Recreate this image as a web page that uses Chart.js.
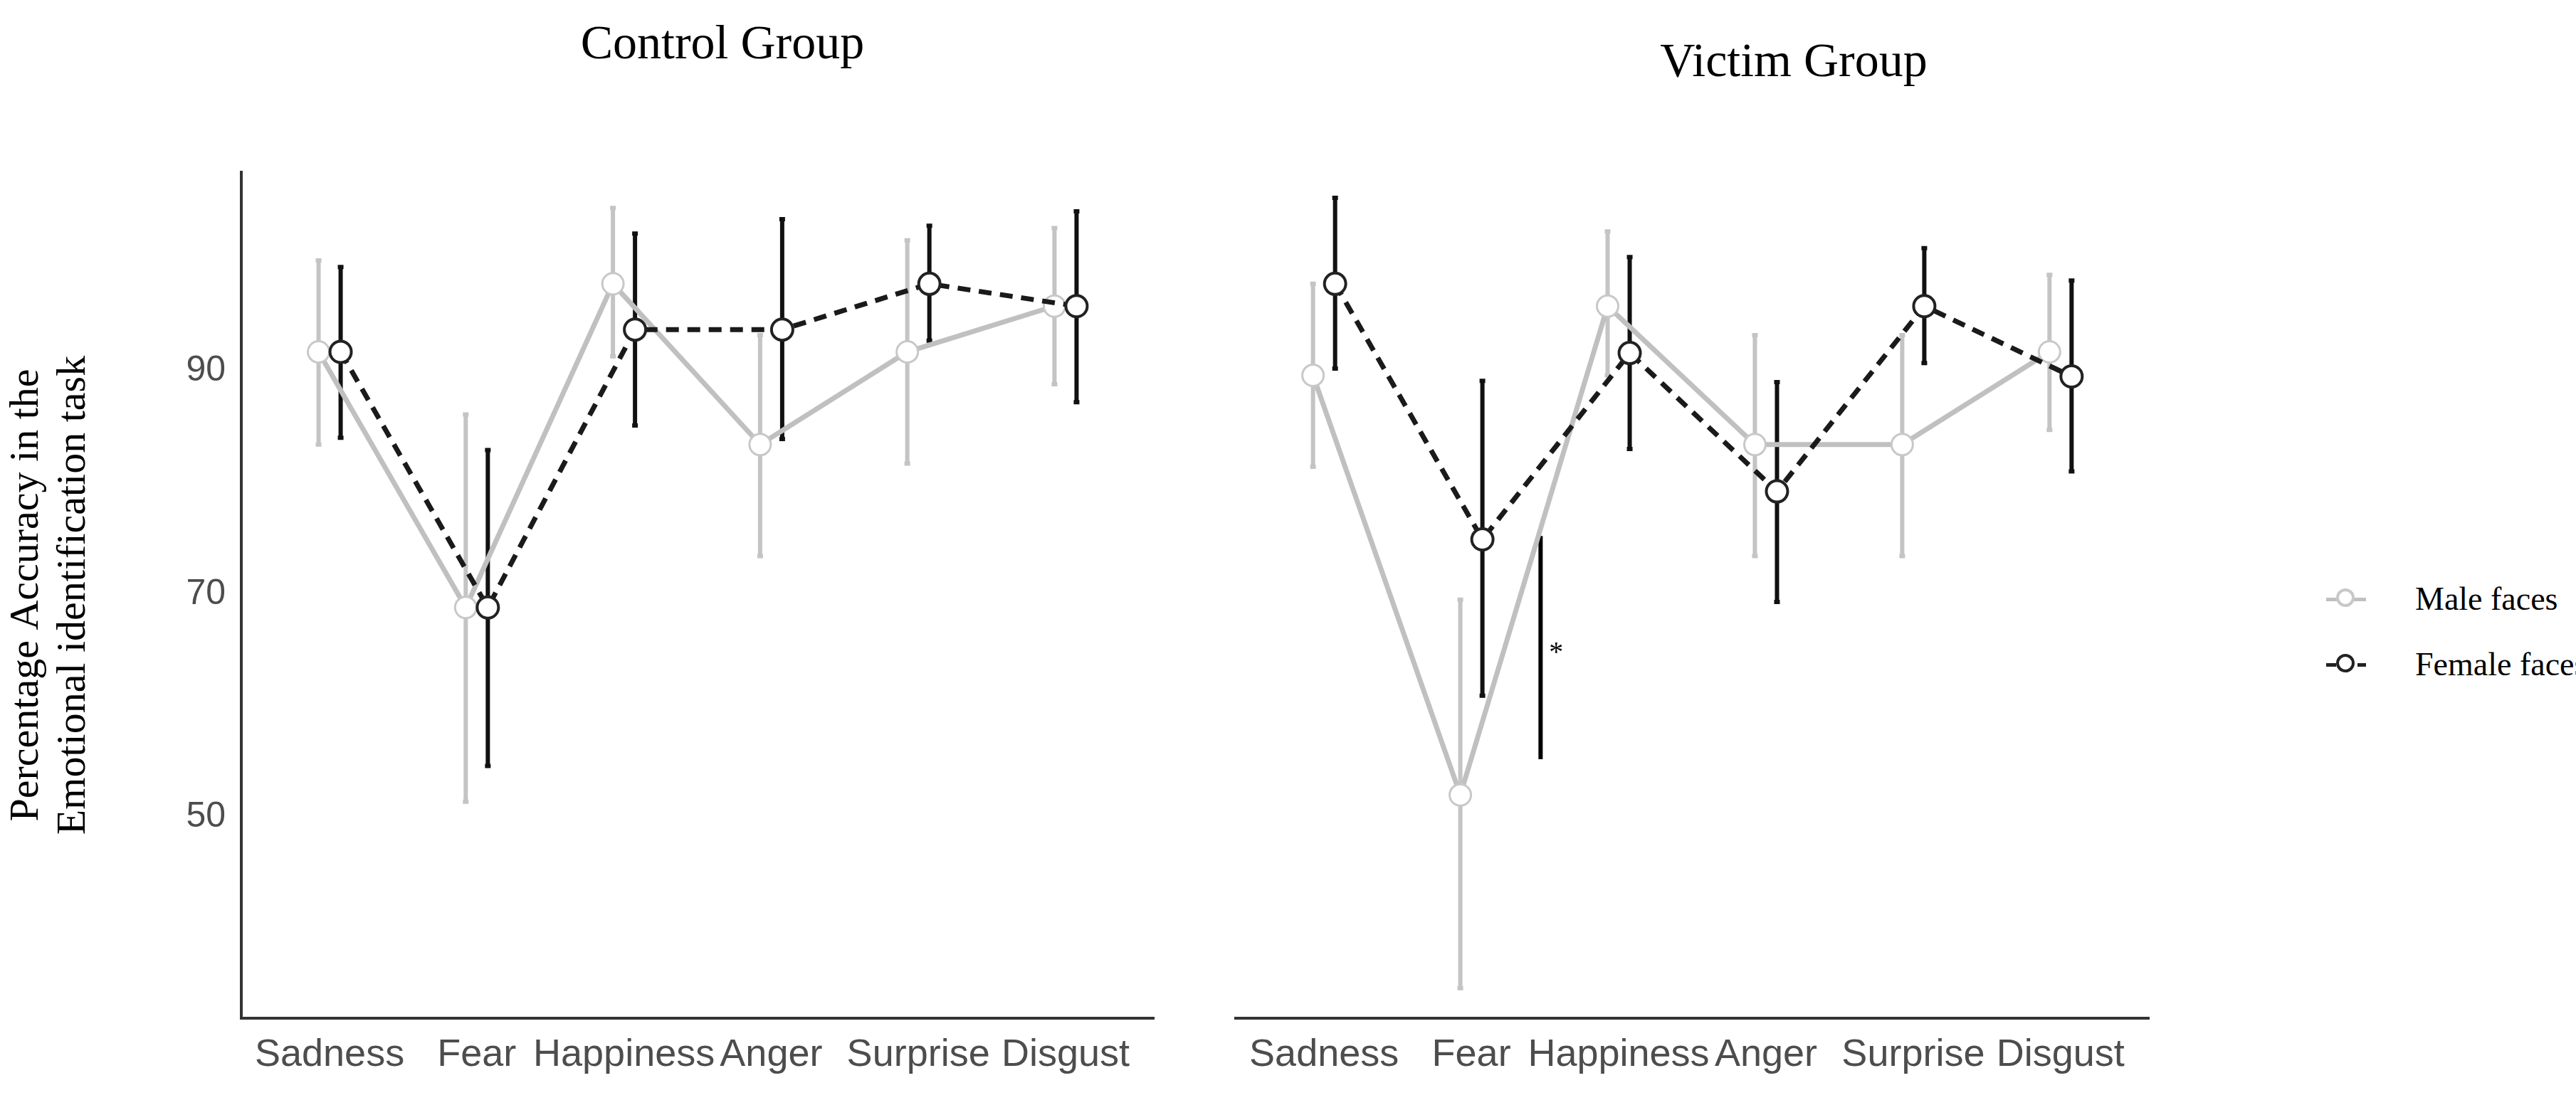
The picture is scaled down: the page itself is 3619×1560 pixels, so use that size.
<!DOCTYPE html>
<html><head><meta charset="utf-8">
<script src="https://cdn.jsdelivr.net/npm/chart.js@4.4.1/dist/chart.umd.min.js"></script>
<style>
body{margin:0;width:3619px;height:1560px;background:#fff;position:relative;overflow:hidden}
canvas{position:absolute;top:0}
.t{position:absolute;font-family:"Liberation Serif",serif;color:#000;white-space:nowrap}
.mk{position:absolute;width:56px;height:5px}
.mk i{position:absolute;left:14px;top:-13px;width:26px;height:26px;border-radius:50%;background:#fff;box-sizing:border-box}
</style></head><body>
<div class="t" style="left:1015px;top:20px;font-size:68px;transform:translateX(-50%)">Control Group</div>
<div class="t" style="left:2520px;top:45px;font-size:68px;transform:translateX(-50%)">Victim Group</div>
<div class="mk" style="left:3268px;top:840px;background:#c0c0c0"><i style="border:4px solid #c8c8c8"></i></div>
<div class="t" style="left:3393px;top:815px;font-size:46px">Male faces</div>
<div class="mk" style="left:3268px;top:932px;background:repeating-linear-gradient(90deg,#222 0 14px,transparent 14px 22px)"><i style="border:4px solid #222"></i></div>
<div class="t" style="left:3393px;top:907px;font-size:46px">Female faces</div>
<canvas id="c1" style="left:0" width="1640" height="1560"></canvas>
<canvas id="c2" style="left:1700px" width="1350" height="1560"></canvas>
<script>
const categories = ['Sadness', 'Fear', 'Happiness', 'Anger', 'Surprise', 'Disgust'];
const yTicks = [50, 70, 90];

// Control group
const controlMale = [91.7, 68.8, 97.8, 83.4, 91.7, 95.8];
const controlMaleLo = [83.4, 51.4, 91.3, 73.4, 81.7, 88.8];
const controlMaleHi = [99.9, 86.1, 104.6, 93.2, 101.7, 102.8];
const controlFemale = [91.7, 68.8, 93.7, 93.7, 97.8, 95.8];
const controlFemaleLo = [84.0, 54.6, 85.1, 83.9, 92.7, 87.2];
const controlFemaleHi = [99.3, 82.9, 102.3, 103.6, 103.0, 104.3];

// Victim group
const victimMale = [89.6, 52.0, 95.8, 83.4, 83.4, 91.7];
const victimMaleLo = [81.4, 34.7, 89.6, 73.4, 73.4, 84.7];
const victimMaleHi = [97.8, 69.5, 102.5, 93.2, 93.2, 98.6];
const victimFemale = [97.8, 74.9, 91.6, 79.2, 95.8, 89.5];
const victimFemaleLo = [90.2, 60.9, 83.0, 69.3, 90.7, 81.0];
const victimFemaleHi = [105.5, 89.1, 100.2, 89.0, 101.0, 98.1];

// significance bar in victim panel (x position, y from, y to)
const sigBar = [1.47, 55.2, 75.2];

const dodge = 0.075;
const pts = (vals, off) => vals.map((v, i) => ({x: i + off, y: v}));

function makeChart(id, male, mLo, mHi, female, fLo, fHi, showY, sig) {
  const errPlugin = {
    id: 'err',
    beforeDatasetsDraw(chart) {
      const c = chart.ctx, xs = chart.scales.x, ys = chart.scales.y;
      const draw = (lo, hi, off, col) => {
        c.save(); c.strokeStyle = col; c.lineWidth = 6;
        lo.forEach((l, i) => {
          const x = xs.getPixelForValue(i + off);
          c.beginPath(); c.moveTo(x, ys.getPixelForValue(l)); c.lineTo(x, ys.getPixelForValue(hi[i])); c.stroke();
          c.beginPath(); c.moveTo(x - 4, ys.getPixelForValue(l)); c.lineTo(x + 4, ys.getPixelForValue(l));
          c.moveTo(x - 4, ys.getPixelForValue(hi[i])); c.lineTo(x + 4, ys.getPixelForValue(hi[i])); c.stroke();
        });
        c.restore();
      };
      draw(mLo, mHi, -dodge, '#c4c4c4');
      draw(fLo, fHi, dodge, '#111');
      if (sig) {
        const x = xs.getPixelForValue(sig[0]);
        c.save(); c.strokeStyle = '#000'; c.lineWidth = 6;
        c.beginPath(); c.moveTo(x, ys.getPixelForValue(sig[1])); c.lineTo(x, ys.getPixelForValue(sig[2])); c.stroke();
        c.fillStyle = '#000'; c.font = '40px "Liberation Serif"'; c.textAlign = 'left'; c.textBaseline = 'middle';
        c.fillText('*', x + 12, ys.getPixelForValue((sig[1] + sig[2]) / 2) + 8);
        c.restore();
      }
    }
  };
  return new Chart(document.getElementById(id), {
    type: 'line',
    data: {
      datasets: [
        {label: 'Male faces', data: pts(male, -dodge), borderColor: '#c0c0c0', borderWidth: 7,
         pointRadius: 15, pointBorderWidth: 3, pointBackgroundColor: '#fff', pointBorderColor: '#c8c8c8', order: 2},
        {label: 'Female faces', data: pts(female, dodge), borderColor: '#1a1a1a', borderWidth: 7, borderDash: [18, 12],
         pointRadius: 15, pointBorderWidth: 4, pointBackgroundColor: '#fff', pointBorderColor: '#222', order: 1}
      ]
    },
    plugins: [errPlugin],
    options: {
      responsive: false, animation: false,
      layout: {padding: {top: 242, left: showY ? 0 : 36, right: showY ? 8 : 31, bottom: 0}},
      plugins: {legend: {display: false}, tooltip: {enabled: false}},
      scales: {
        x: {
          type: 'linear', min: -0.6, max: 5.6,
          afterBuildTicks: s => { s.ticks = categories.map((c, i) => ({value: i})); },
          afterFit: s => { s.height = 129; },
          grid: {display: false, drawOnChartArea: false, tickLength: 14, tickWidth: 4, tickColor: '#333'},
          border: {color: '#333', width: 4},
          ticks: {callback: v => categories[v], color: '#4d4d4d', font: {family: 'Liberation Sans', size: 54}, padding: 6, maxRotation: 0, autoSkip: false}
        },
        y: {
          min: 32, max: 107.8, display: showY,
          afterBuildTicks: s => { s.ticks = yTicks.map(v => ({value: v})); },
          afterFit: s => { if (showY) s.width = 339; },
          grid: {display: false, drawOnChartArea: false, tickLength: 14, tickWidth: 4, tickColor: '#333'},
          border: {color: '#333', width: 4},
          ticks: {color: '#4d4d4d', font: {family: 'Liberation Sans', size: 50}, padding: 8},
          title: {display: true, text: ['Percentage Accuracy in the', 'Emotional identification task'],
                  color: '#000', font: {family: 'Liberation Serif', size: 58, lineHeight: 1.15}, padding: {bottom: 40}}
        }
      }
    }
  });
}

makeChart('c1', controlMale, controlMaleLo, controlMaleHi, controlFemale, controlFemaleLo, controlFemaleHi, true, null);
makeChart('c2', victimMale, victimMaleLo, victimMaleHi, victimFemale, victimFemaleLo, victimFemaleHi, false, sigBar);
</script></body></html>
